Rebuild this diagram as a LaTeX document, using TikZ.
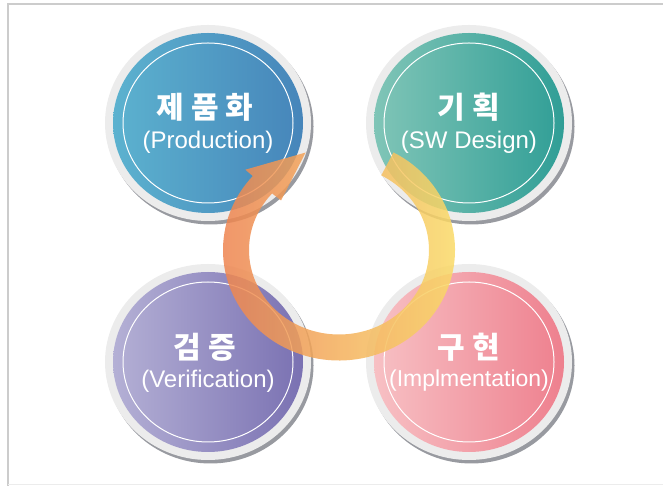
\documentclass[tikz,border=0pt]{standalone}
\usepackage{fontspec}
\setmainfont{Liberation Sans}
\newfontfamily\kor{Noto Sans CJK KR}
\usetikzlibrary{shapes.geometric}
\definecolor{frameline}{RGB}{204,204,204}
\definecolor{framefaint}{RGB}{236,236,236}
\definecolor{ringgray}{RGB}{236,236,236}
\definecolor{ringshadow}{RGB}{152,154,160}
\definecolor{prodL}{RGB}{92,178,207}
\definecolor{prodR}{RGB}{70,133,186}
\definecolor{planL}{RGB}{128,197,183}
\definecolor{planR}{RGB}{48,158,150}
\definecolor{veriL}{RGB}{180,176,213}
\definecolor{veriR}{RGB}{122,113,178}
\definecolor{implL}{RGB}{247,192,196}
\definecolor{implR}{RGB}{238,128,142}
\definecolor{arrowL}{RGB}{238,132,80}
\definecolor{arrowR}{RGB}{250,224,105}
\begin{document}
\begin{tikzpicture}[x=1pt,y=1pt,
  phase/.style={ellipse,minimum width=190pt,minimum height=180pt,inner sep=0pt,
    preaction={draw=ringshadow,line width=16pt,transform canvas={shift={(2.5pt,-3.5pt)}}},
    preaction={draw=ringgray,line width=16pt}},
  innerring/.style={draw=white,line width=1pt},
  kortext/.style={inner sep=0pt,text=white,font=\kor\bfseries\fontsize{30}{32}\selectfont},
  entext/.style={inner sep=0pt,text=white,font=\fontsize{24}{28}\selectfont},
  cycle arrow/.style={left color=arrowL,right color=arrowR,opacity=0.85}]
  \useasboundingbox (0,0) rectangle (663,486);
  % four phases
  \node[phase,left color=prodL,right color=prodR] (product) at (208,363) {};
  \node[phase,left color=planL,right color=planR] (plan) at (469,363) {};
  \node[phase,left color=veriL,right color=veriR] (verify) at (208,124) {};
  \node[phase,left color=implL,right color=implR] (impl) at (469,124) {};
  \draw[innerring] (product.center) ellipse [x radius=85,y radius=80];
  \draw[innerring] (plan.center) ellipse [x radius=85,y radius=80];
  \draw[innerring] (verify.center) ellipse [x radius=85,y radius=80];
  \draw[innerring] (impl.center) ellipse [x radius=85,y radius=80];
  % names
  \node[kortext] (productkr) at ([shift={(-3,16)}]product.center) {제\hspace{7pt}품\hspace{7pt}화};
  \node[entext] (producten) at ([shift={(0,-19)}]product.center) {(Production)};
  \node[kortext] (plankr) at ([shift={(0,16)}]plan.center) {기\hspace{7pt}획};
  \node[entext] (planen) at ([shift={(0,-19)}]plan.center) {(SW Design)};
  \node[kortext] (verifykr) at ([shift={(-3,15)}]verify.center) {검\hspace{7pt}증};
  \node[entext] (verifyen) at ([shift={(0,-19)}]verify.center) {(Verification)};
  \node[kortext] (implkr) at ([shift={(0,15)}]impl.center) {구\hspace{7pt}현};
  \node[entext,font=\fontsize{23}{28}\selectfont] (implen) at ([shift={(0,-19)}]impl.center) {(Implmentation)};
  % cycle arrow
  \begin{scope}[shift={(339,236)}]
    \shade[cycle arrow] (62:116 and 110.5)
      arc[start angle=62,end angle=-222,x radius=116,y radius=110.5]
      -- (-222:126 and 120) -- (108:108 and 102.5) -- (-222:78 and 74)
      -- (-222:90 and 84.5)
      arc[start angle=-222,end angle=62,x radius=90,y radius=84.5] -- cycle;
  \end{scope}
  % frame
  \draw[frameline,line width=1.5pt] (663,482) -- (8,482) -- (8,0);
  \draw[framefaint,line width=1pt] (8,1) -- (663,1);
\end{tikzpicture}
\end{document}
